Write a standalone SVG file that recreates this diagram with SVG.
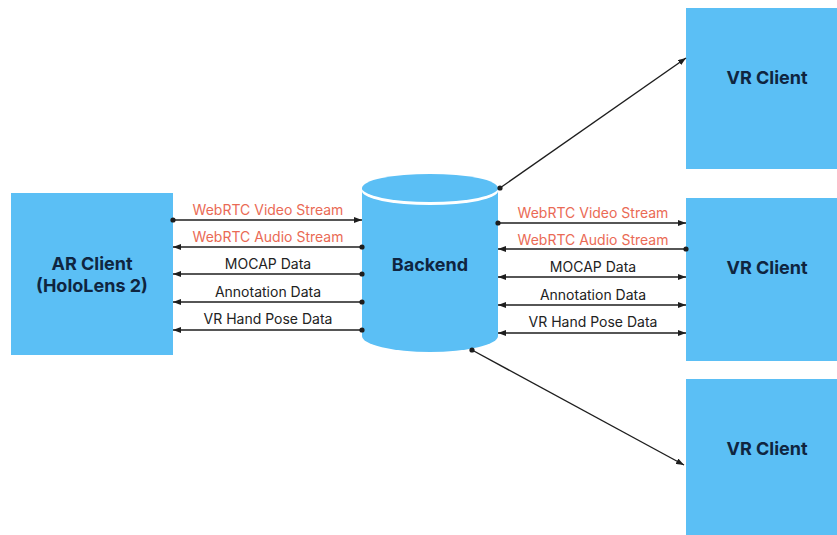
<svg xmlns="http://www.w3.org/2000/svg" width="837" height="535" viewBox="0 0 837 535">
  <defs>
    <style>
      .box { fill: #5bbff5; }
      .node-label { font-family: Inter, "Liberation Sans", sans-serif; font-size: 18px; font-weight: 700; fill: #0f2540; text-anchor: middle; }
      .flow { stroke: #1e1e1e; stroke-width: 1.4; fill: none; }
      .flow-label { font-family: Inter, "Liberation Sans", sans-serif; font-size: 14px; fill: #222222; text-anchor: middle; }
      .media { fill: #ea6a55; }
    </style>
    <marker id="arrow" viewBox="0 0 8 6" refX="8" refY="3" markerWidth="8" markerHeight="6" markerUnits="userSpaceOnUse" orient="auto-start-reverse">
      <path d="M0,0 L8,3 L0,6 Z" fill="#1e1e1e"/>
    </marker>
    <marker id="dot" viewBox="0 0 6 6" refX="3" refY="3" markerWidth="6" markerHeight="6" markerUnits="userSpaceOnUse">
      <circle cx="3" cy="3" r="2.6" fill="#1e1e1e"/>
    </marker>
  </defs>

  <rect width="837" height="535" fill="#ffffff"/>

  <g id="ar-client">
    <rect class="box" x="11" y="193" width="162" height="162"/>
    <text class="node-label" x="92" y="270">AR Client</text>
    <text class="node-label" x="92" y="292">(HoloLens 2)</text>
  </g>

  <g id="backend">
    <path class="box" d="M362,188 L362,336 A68,16 0 0 0 498,336 L498,188 Z"/>
    <ellipse cx="430" cy="191" rx="68" ry="14" fill="#ffffff"/>
    <ellipse class="box" cx="430" cy="188" rx="68" ry="14"/>
    <text class="node-label" x="430" y="271">Backend</text>
  </g>

  <g id="vr-client-1">
    <rect class="box" x="686" y="8" width="162" height="161"/>
    <text class="node-label" x="767" y="84">VR Client</text>
  </g>

  <g id="vr-client-2">
    <rect class="box" x="686" y="198" width="162" height="163"/>
    <text class="node-label" x="767" y="274">VR Client</text>
  </g>

  <g id="vr-client-3">
    <rect class="box" x="686" y="379" width="162" height="162"/>
    <text class="node-label" x="767" y="455">VR Client</text>
  </g>

  <g id="connectors">
    <!-- AR client <-> backend -->
    <line class="flow" x1="173" y1="220" x2="362" y2="220" marker-start="url(#dot)" marker-end="url(#arrow)"/>
    <line class="flow" x1="362" y1="247" x2="173" y2="247" marker-start="url(#dot)" marker-end="url(#arrow)"/>
    <line class="flow" x1="362" y1="274" x2="173" y2="274" marker-start="url(#dot)" marker-end="url(#arrow)"/>
    <line class="flow" x1="362" y1="302" x2="173" y2="302" marker-start="url(#dot)" marker-end="url(#arrow)"/>
    <line class="flow" x1="362" y1="330" x2="173" y2="330" marker-start="url(#dot)" marker-end="url(#arrow)"/>

    <!-- backend <-> VR client -->
    <line class="flow" x1="498" y1="223" x2="686" y2="223" marker-start="url(#dot)" marker-end="url(#arrow)"/>
    <line class="flow" x1="686" y1="249" x2="498" y2="249" marker-start="url(#dot)" marker-end="url(#arrow)"/>
    <line class="flow" x1="498" y1="277" x2="686" y2="277" marker-start="url(#arrow)" marker-end="url(#arrow)"/>
    <line class="flow" x1="498" y1="305" x2="686" y2="305" marker-start="url(#arrow)" marker-end="url(#arrow)"/>
    <line class="flow" x1="498" y1="333" x2="686" y2="333" marker-start="url(#arrow)" marker-end="url(#arrow)"/>

    <!-- backend fan-out to the other VR clients -->
    <line class="flow" x1="500" y1="188" x2="686" y2="58" marker-start="url(#dot)" marker-end="url(#arrow)"/>
    <line class="flow" x1="472" y1="350" x2="684" y2="465" marker-start="url(#dot)" marker-end="url(#arrow)"/>

    <text class="flow-label media" x="268" y="215">WebRTC Video Stream</text>
    <text class="flow-label media" x="268" y="242">WebRTC Audio Stream</text>
    <text class="flow-label" x="268" y="269">MOCAP Data</text>
    <text class="flow-label" x="268" y="297">Annotation Data</text>
    <text class="flow-label" x="268" y="324">VR Hand Pose Data</text>

    <text class="flow-label media" x="593" y="218">WebRTC Video Stream</text>
    <text class="flow-label media" x="593" y="245">WebRTC Audio Stream</text>
    <text class="flow-label" x="593" y="272">MOCAP Data</text>
    <text class="flow-label" x="593" y="300">Annotation Data</text>
    <text class="flow-label" x="593" y="327">VR Hand Pose Data</text>
  </g>
</svg>
